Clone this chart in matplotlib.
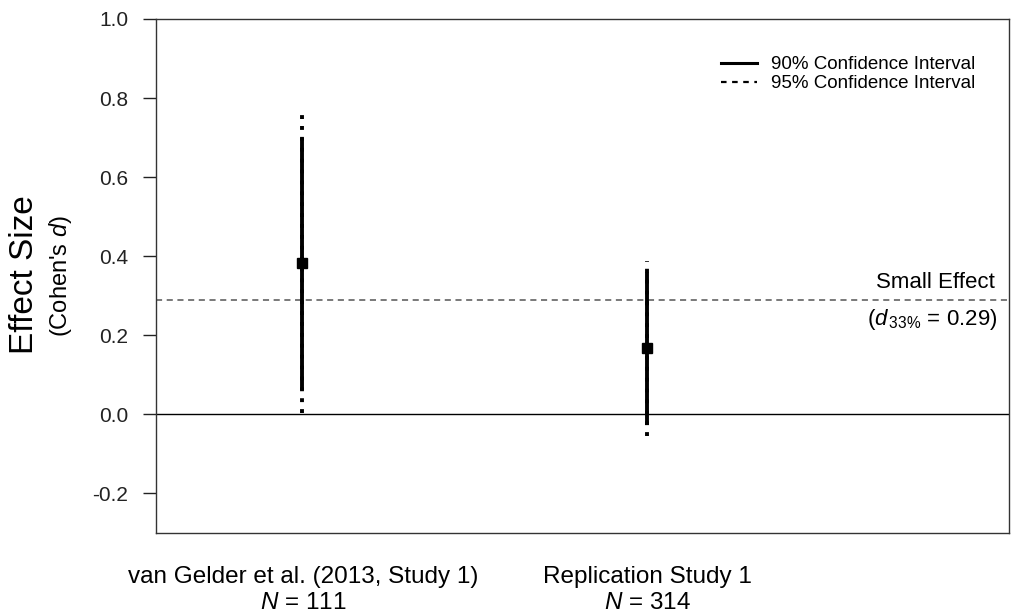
import matplotlib.pyplot as plt
from matplotlib.lines import Line2D

plt.rcParams.update({'font.family': ['Liberation Sans', 'DejaVu Sans'],
                     'mathtext.fontset': 'custom',
                     'mathtext.rm': 'Liberation Sans',
                     'mathtext.it': 'Liberation Sans:italic'})

# study positions, estimates and confidence intervals
studies = ["van Gelder et al. (2013, Study 1)", "Replication Study 1"]
sample_n = [111, 314]
x_pos = [1, 2]
d_est = [0.382, 0.167]
ci90_lo = [0.061, -0.028]
ci90_hi = [0.699, 0.36]
ci95_lo = [0.003, -0.055]
ci95_hi = [0.757, 0.388]
small_effect = 0.29
yticks = [-0.2, 0.0, 0.2, 0.4, 0.6, 0.8, 1.0]

W, H = 1011, 612
fig = plt.figure(figsize=(W / 100, H / 100), dpi=100)
ax = fig.add_axes([156 / W, 1 - 533 / H, 853 / W, 514 / H])

ax.axhline(0, color="black", lw=1)
ax.axhline(small_effect, color="#555555", lw=1.1, ls=(0, (4, 3)))

for i in range(len(x_pos)):
    ax.plot([x_pos[i], x_pos[i]], [ci95_lo[i], ci95_hi[i]], color="black",
            lw=2.8, ls=(0, (1.0, 1.8)), solid_capstyle="butt")
    ax.plot([x_pos[i], x_pos[i]], [ci90_lo[i], ci90_hi[i]], color="black",
            lw=2.8, solid_capstyle="butt")
    ax.plot(x_pos[i], d_est[i], marker="s", color="black", ms=7.2)

ax.set_xlim(0.577, 3.049)
ax.set_ylim(-0.3, 1.0)
ax.set_xticks([])
ax.set_yticks(yticks)
ax.set_yticklabels(["%.1f" % v for v in yticks], fontsize=15)
ax.tick_params(axis="y", length=9.4, width=1, pad=10.5, colors="#222222")
for s in ax.spines.values():
    s.set_linewidth(1)
    s.set_color("#333333")

# small effect annotation
fig.text(995 / W, 1 - 288 / H, "Small Effect", ha="right", va="baseline",
         fontsize=16)
fig.text(997 / W, 1 - 325 / H, r"($\mathit{d}_{\,33\%}$ = 0.29)",
         ha="right", va="baseline", fontsize=16)

# x labels under the box
label_px = [303, 647]
for i in range(len(studies)):
    fig.text(label_px[i] / W, 1 - 583 / H, studies[i], ha="center",
             va="baseline", fontsize=17.5)
    fig.text(label_px[i] / W, 1 - 609 / H, r"$\mathit{N}$ = %d" % sample_n[i],
             ha="center", va="baseline", fontsize=17.5)

# y axis labels
fig.text(25 / W, 1 - 275 / H, "Effect Size", rotation=90, ha="center",
         va="center", fontsize=24)
fig.text(60 / W, 1 - 276 / H, r"(Cohen's $\mathit{d}$)", rotation=90,
         ha="center", va="center", fontsize=17)

handles = [Line2D([], [], color="black", lw=2.2),
           Line2D([], [], color="black", lw=1.6, ls=(0, (2.5, 2.5)))]
fig.legend(handles, ["90% Confidence Interval", "95% Confidence Interval"],
           loc="upper left", bbox_to_anchor=(708 / W, 1 - 43 / H),
           frameon=False, fontsize=13.5, handlelength=1.9,
           handletextpad=0.75, labelspacing=0.1, borderpad=0.2)

fig.savefig("out.png", dpi=100)
